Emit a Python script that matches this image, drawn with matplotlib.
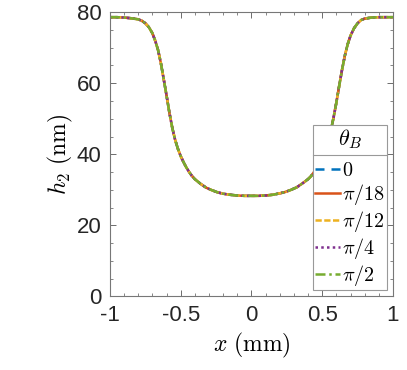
import numpy as np
import matplotlib
matplotlib.use('Agg')
import matplotlib.pyplot as plt
from matplotlib.lines import Line2D

plt.rcParams['mathtext.fontset'] = 'cm'
plt.rcParams['font.family'] = ['Liberation Sans', 'DejaVu Sans']

# profile (all five curves overlap)
x_mm = [-1.0, -0.95, -0.9, -0.85, -0.8, -0.775, -0.75, -0.725, -0.7, -0.68,
        -0.66, -0.64, -0.62, -0.6, -0.58, -0.56, -0.54, -0.52, -0.5, -0.48,
        -0.46, -0.44, -0.42, -0.4, -0.36, -0.32, -0.28, -0.24, -0.2, -0.15,
        -0.1, -0.05, 0.0, 0.05, 0.1, 0.15, 0.2, 0.24, 0.28, 0.32,
        0.36, 0.4, 0.42, 0.44, 0.46, 0.48, 0.5, 0.52, 0.54, 0.56,
        0.58, 0.6, 0.62, 0.64, 0.66, 0.68, 0.7, 0.725, 0.75, 0.775,
        0.8, 0.85, 0.9, 0.95, 1.0]
h2_nm = [78.6, 78.6, 78.5, 78.3, 78.0, 77.6, 76.9, 75.8, 74.1, 72.0,
         69.4, 65.7, 61.2, 56.6, 51.8, 47.6, 44.2, 41.6, 39.5, 37.8,
         36.3, 35.0, 33.9, 33.0, 31.7, 30.6, 29.9, 29.3, 28.9, 28.6,
         28.4, 28.3, 28.3, 28.3, 28.4, 28.6, 29.0, 29.4, 30.0, 30.7,
         31.8, 33.0, 33.8, 34.9, 36.1, 37.5, 39.2, 41.2, 43.6, 46.6,
         50.3, 54.6, 59.3, 63.8, 67.8, 71.0, 73.4, 75.5, 76.9, 77.8,
         78.2, 78.5, 78.6, 78.6, 78.6]

labels = ['$0$', r'$\pi/18$', r'$\pi/12$', r'$\pi/4$', r'$\pi/2$']
series = [h2_nm, h2_nm, h2_nm, h2_nm, h2_nm]

colors = ['#0072BD', '#D95319', '#EDB120', '#7E2F8E', '#77AC30']
styles = [(0, (3.6, 2.8)), '-', (0, (2.5, 1.0)), (0, (1.0, 1.3)),
          (0, (4.0, 1.5, 1.0, 1.5))]

fig = plt.figure(figsize=(4.07, 3.70), dpi=100)
ax = fig.add_axes([0.270, 0.199, 0.6956, 0.768])

for h, c, ls, lab in zip(series, colors, styles, labels):
    ax.plot(x_mm, h, color=c, linestyle=ls, lw=1.8, label=lab)

ax.set_xlim(-1, 1)
ax.set_ylim(0, 80)
ax.set_xticks([-1, -0.5, 0, 0.5, 1])
ax.set_xticklabels(['-1', '-0.5', '0', '0.5', '1'])
ax.set_yticks([0, 20, 40, 60, 80])
ax.set_xticks(np.arange(-1, 1.01, 0.1), minor=True)
ax.set_yticks(np.arange(0, 81, 5), minor=True)
ax.tick_params(which='both', direction='in', top=True, right=True,
               colors='#555555', labelcolor='#262626', labelsize=16)
ax.tick_params(which='major', length=4, width=0.6)
ax.tick_params(which='minor', length=2, width=0.5)
ax.tick_params(axis='x', pad=6)
ax.tick_params(axis='y', pad=6)
for s in ax.spines.values():
    s.set_color('#777777')
    s.set_linewidth(0.8)

ax.set_xlabel(r'$x\ (\mathrm{mm})$', fontsize=17, labelpad=4)
ax.set_ylabel(r'$h_2\ (\mathrm{nm})$', fontsize=17, labelpad=1)

leg = ax.legend(loc='lower right', bbox_to_anchor=(0.980, 0.022),
                borderaxespad=0, title=r'$\theta_B$', fontsize=14.5,
                title_fontsize=16, fancybox=False, framealpha=1,
                edgecolor='#999999', handlelength=1.2, handletextpad=0.12,
                labelspacing=0.1, borderpad=0.12)
leg.get_frame().set_linewidth(0.8)
leg._legend_box.sep = 7   # more room between title and entries

# separator line below the legend title
fig.canvas.draw()
fb = leg.get_frame().get_window_extent()
tb = leg.get_title().get_window_extent()
inv = fig.transFigure.inverted()
ysep = tb.y0 - 4
(x0, y0) = inv.transform((fb.x0, ysep))
(x1, _) = inv.transform((fb.x1, ysep))
fig.add_artist(Line2D([x0, x1], [y0, y0], color='#999999', lw=0.8,
                      transform=fig.transFigure))

fig.savefig('out.png', dpi=100)
